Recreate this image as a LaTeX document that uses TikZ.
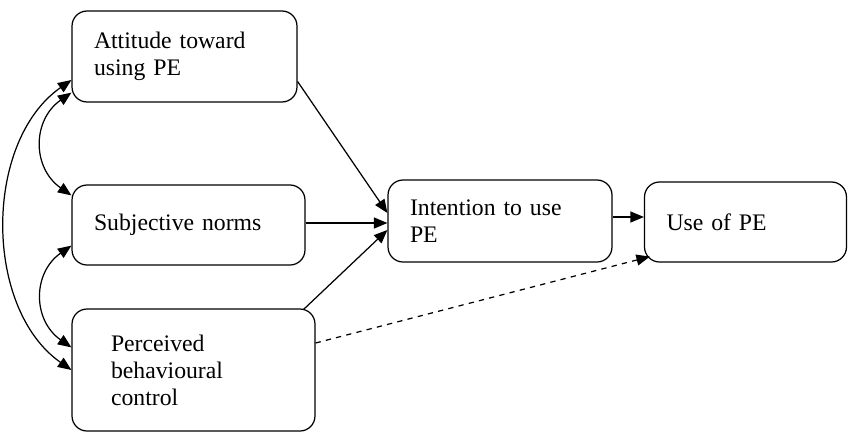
\documentclass[tikz,border=0pt]{standalone}
\usepackage{fontspec}
\setmainfont{Liberation Serif}
\usetikzlibrary{arrows.meta}

\tikzset{
  box/.style={draw, rounded corners=0.3cm, align=left, inner xsep=0.44cm,
    inner ysep=0pt, font=\fontsize{13.5}{15.4}\selectfont},
  link/.style={->, line width=0.7pt},
}

\begin{document}
\begin{tikzpicture}[x=0.02cm,y=-0.02cm,line width=0.7pt,
    >={Triangle[length=0.27cm,width=0.22cm]}]
  \useasboundingbox (0,0) rectangle (848,433);

  \node[box, text width=3.62cm, minimum height=1.82cm] (att) at (184.5,56.5)
    {Attitude toward\\ using PE};
  \node[box, text width=3.78cm, minimum height=1.6cm] (norm) at (188.5,225)
    {Subjective norms};
  \node[box, inner xsep=0.78cm, text width=3.3cm, minimum height=2.44cm] (pbc) at (193.5,370)
    {Perceived\\ behavioural\\ control};
  \node[box, text width=3.6cm, minimum height=1.64cm] (int) at (500,221)
    {Intention to use\\ PE};
  \node[box, text width=3.16cm, minimum height=1.6cm] (use) at (745.5,222)
    {Use of PE};

  % paths into the intention
  \draw[link] ([yshift=-0.5cm]att.east) -- ([yshift=0.16cm]int.west);
  \draw[link] ([yshift=0.04cm]norm.east) -- ([yshift=0.04cm]norm.east -| int.west);
  \draw[link] ([xshift=-0.24cm,yshift=-0.02cm]pbc.north east) -- ([yshift=-0.18cm]int.west);
  \draw[link] ([yshift=0.08cm]int.east) -- ([yshift=0.08cm]int.east -| use.west);
  \draw[link,dashed] ([yshift=0.54cm]pbc.east) -- ([xshift=0.12cm,yshift=0.12cm]use.south west);

  % correlations
  \draw[<->] ([yshift=0.2cm]att.south west) to[out=215,in=145,looseness=1.2]
    ([yshift=-0.22cm]norm.north west);
  \draw[<->] ([yshift=0.4cm]norm.south west) to[out=215,in=145,looseness=1.2]
    ([yshift=-0.78cm]pbc.north west);
  \draw[<->] ([yshift=-0.47cm]att.west) to[out=215,in=145,looseness=0.95]
    (pbc.west);
\end{tikzpicture}
\end{document}
